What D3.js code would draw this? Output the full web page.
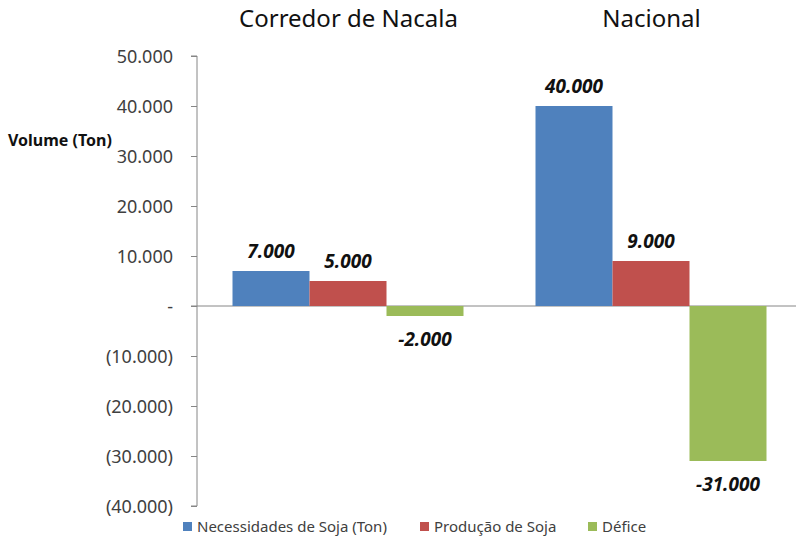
<!DOCTYPE html>
<html>
<head>
<meta charset="utf-8">
<style>
    body { margin: 0; background: #fff; }
    svg { font-family: 'Noto Sans', 'DejaVu Sans', sans-serif; }
</style>
</head>
<body>
<svg width="796" height="541"></svg>
<script src="https://d3js.org/d3.v7.min.js"></script>
<script>
    // data
    let regions = ["Corredor de Nacala", "Nacional"]
    let seriesNames = ["Necessidades de Soja (Ton)", "Produção de Soja", "Défice"]
    let necessidades = [7000, 40000]
    let producao = [5000, 9000]
    let defice = [-2000, -31000]
    let yTicks = [50000, 40000, 30000, 20000, 10000, 0, -10000, -20000, -30000, -40000]
    let colors = ["#4F81BD", "#C0504D", "#9BBB59"]

    let rows = regions.map((r, i) => ({
        region: r,
        values: [necessidades[i], producao[i], defice[i]]
    }))

    let pt = d3.formatLocale({ decimal: ",", thousands: ".", grouping: [3], currency: ["", ""] })
    let fmt = pt.format(",.0f")
    let axisFmt = d => d === 0 ? "-" : (d < 0 ? "(" + fmt(-d) + ")" : fmt(d))

    let svg = d3.select("svg")

    let x0 = d3.scaleBand().domain(regions).range([197, 803])
    let x1 = d3.scaleBand().domain(seriesNames).range([35.5, 266.5])
    let y = d3.scaleLinear().domain([-40000, 50000]).range([506, 56])

    // y axis
    let yAxis = svg.append("g")
        .attr("transform", "translate(197,0)")
        .call(d3.axisLeft(y).tickValues(yTicks).tickFormat(axisFmt).tickSize(6).tickPadding(18))
    yAxis.selectAll("path, line").attr("stroke", "#868686")
    yAxis.select(".domain").attr("d", "M-6," + y(50000) + "H0V" + y(-40000) + "H-6")
    yAxis.selectAll("text")
        .attr("fill", "#404040")
        .attr("dy", "0.35em")
        .style("font-size", "18px")
        .style("font-family", "'Noto Sans', sans-serif")

    // zero line
    svg.append("line")
        .attr("x1", 191).attr("x2", 796)
        .attr("y1", y(0)).attr("y2", y(0))
        .attr("stroke", "#868686")

    svg.append("text")
        .attr("x", 8).attr("y", 146)
        .style("font-size", "16px")
        .style("font-weight", "bold")
        .attr("fill", "#111")
        .text("Volume (Ton)")

    // region titles
    svg.selectAll(".title")
        .data(regions)
        .join("text")
        .attr("x", d => x0(d) + x0.bandwidth() / 2)
        .attr("y", 27)
        .attr("text-anchor", "middle")
        .style("font-size", "24px")
        .attr("fill", "#111")
        .text(d => d)

    let groups = svg.selectAll(".grp")
        .data(rows)
        .join("g")
        .attr("transform", d => "translate(" + x0(d.region) + ",0)")

    let cells = groups.selectAll("g")
        .data(d => d.values.map((v, i) => ({ name: seriesNames[i], value: v, i: i })))
        .join("g")

    cells.append("rect")
        .attr("x", d => x1(d.name))
        .attr("width", x1.bandwidth())
        .attr("y", d => y(Math.max(0, d.value)))
        .attr("height", d => Math.abs(y(d.value) - y(0)))
        .attr("fill", d => colors[d.i])

    cells.append("text")
        .attr("x", d => x1(d.name) + x1.bandwidth() / 2)
        .attr("y", d => d.value >= 0 ? y(d.value) - 13 : y(d.value) + 30)
        .attr("text-anchor", "middle")
        .style("font-size", "19px")
        .style("font-weight", "bold")
        .style("font-style", "italic")
        .attr("fill", "#111")
        .text(d => fmt(d.value))

    // legend
    let legendX = [183, 420, 588]
    let legend = svg.selectAll(".leg")
        .data(seriesNames)
        .join("g")
        .attr("transform", (d, i) => "translate(" + legendX[i] + ",522)")
    legend.append("rect")
        .attr("width", 9).attr("height", 9)
        .attr("fill", (d, i) => colors[i])
    legend.append("text")
        .attr("x", 14).attr("y", 10)
        .style("font-size", "15px")
        .attr("fill", "#404040")
        .text(d => d)
</script>
</body>
</html>
